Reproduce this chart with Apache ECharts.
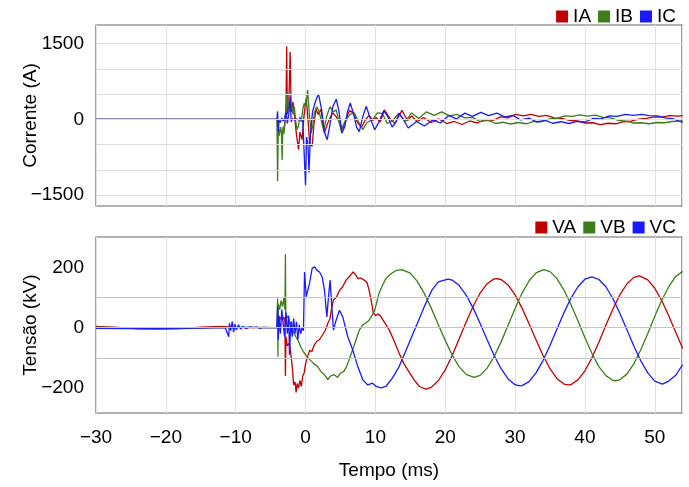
<!DOCTYPE html>
<html>
<head>
<meta charset="utf-8">
<script src="https://cdn.jsdelivr.net/npm/echarts@6/dist/echarts.min.js"></script>
<style>
  html, body { margin: 0; padding: 0; background: #fff; }
  #chart { width: 689px; height: 487px; }
</style>
</head>
<body>
<div id="chart"></div>
<script>
// Time axis (ms) and tick labels
const timeTicks = [-30, -20, -10, 0, 10, 20, 30, 40, 50];
const currentLabels = [-1500, 0, 1500];
const currentGrid = [-1500, -1000, -500, 0, 500, 1000, 1500];
const voltageLabels = [-200, 0, 200];
const voltageGrid = [-100, 0, 100];

// Phase currents (A): sample times (ms) and values
const iaT = [-30, -4.05, -3.9, -3.6, -3.3, -3.0, -2.8, -2.7, -2.6, -2.4, -2.2, -2.05, -1.8, -1.6, -1.3, -1.0, -0.8, -0.5, -0.2, 0.1, 0.4, 0.6, 0.95, 1.2, 1.5, 1.8, 2.2, 2.7, 3.1, 3.4, 3.9, 4.4, 4.9, 5.3, 5.8, 6.3, 6.8, 7.4, 8.0, 8.6, 9.1, 9.6, 10.1, 10.7, 11.3, 11.8, 12.2, 12.8, 13.8, 14.6, 15.2, 16.0, 16.9, 18.0, 19.1, 20.2, 21.3, 22.4, 23.5, 24.6, 25.7, 26.8, 27.9, 29.0, 30.1, 31.2, 32.3, 33.4, 34.5, 35.6, 36.7, 37.8, 38.9, 40.0, 41.1, 42.2, 43.3, 44.4, 45.5, 46.6, 47.7, 48.8, 49.9, 51.0, 52.1, 53.2, 54];
const iaV = [0, 0, -250, -200, -300, -100, 200, 1450, 100, 300, 1335, 150, 350, 100, -300, -600, -250, -400, 100, 425, -100, -500, -530, -100, 210, 100, 200, -270, -100, 0, 130, 50, -60, -200, 0, 180, 130, -50, -160, 0, 80, -20, 40, -50, 190, 80, 0, -80, 180, -20, 70, -40, 40, -60, 10, -80, -40, -100, -30, -70, 0, -20, 50, 30, 100, 70, 100, 60, 80, 30, 20, -20, -30, -70, -65, -100, -75, -85, -45, -35, 5, 20, 50, 45, 75, 65, 75];

const ibT = [-30, -4.1, -4.0, -3.9, -3.75, -3.6, -3.45, -3.35, -3.25, -3.1, -2.95, -2.8, -2.65, -2.5, -2.35, -2.2, -2.0, -1.8, -1.6, -1.4, -1.2, -1.0, -0.8, -0.6, -0.4, -0.2, 0.05, 0.3, 0.55, 0.8, 1.05, 1.3, 1.6, 1.9, 2.2, 2.6, 3.0, 3.5, 4.0, 4.4, 4.8, 5.1, 5.5, 5.8, 6.4, 7.0, 7.6, 8.2, 8.8, 9.6, 10.3, 11.0, 11.7, 12.5, 13.3, 14.3, 15.2, 16.2, 17.3, 18.4, 19.5, 20.6, 21.7, 22.8, 23.9, 25.0, 26.1, 27.2, 28.3, 29.4, 30.5, 31.6, 32.7, 33.8, 34.9, 36.0, 37.1, 38.2, 39.3, 40.4, 41.5, 42.6, 43.7, 44.8, 45.9, 47.0, 48.1, 49.2, 50.3, 51.4, 52.5, 53.6, 54];
const ibV = [0, 0, -1220, -200, -320, -150, -250, -800, -150, -280, -100, 150, 560, 200, 350, 150, 300, 100, 250, -50, -200, -120, 50, -50, 200, 320, 250, 580, 100, -270, -100, 150, 250, 180, 0, -220, 50, 250, 150, 190, -50, -220, -80, 0, 100, 130, -50, -200, -60, 0, 130, 120, -80, -20, 120, -40, 130, 20, 150, 80, 150, 70, 100, 30, 40, -40, -20, -80, -55, -90, -60, -85, -40, -45, 10, 20, 70, 60, 90, 65, 85, 40, 30, -20, -35, -70, -65, -85, -60, -65, -40, -30, -20];

const icT = [-30, -4.1, -4.0, -3.9, -3.8, -3.6, -3.4, -3.2, -3.0, -2.8, -2.6, -2.4, -2.2, -2.05, -1.9, -1.6, -1.3, -1.0, -0.7, -0.4, -0.15, 0.0, 0.15, 0.35, 0.5, 0.7, 1.0, 1.4, 1.85, 2.3, 2.7, 3.1, 3.5, 3.9, 4.4, 4.8, 5.2, 5.6, 6.0, 6.4, 6.9, 7.3, 7.7, 8.2, 8.7, 9.2, 9.9, 10.5, 11.2, 11.8, 12.4, 12.9, 13.4, 14.0, 14.7, 15.9, 17.0, 18.2, 19.3, 20.5, 21.6, 22.8, 23.9, 25.1, 26.2, 27.4, 28.5, 29.7, 30.8, 32.0, 33.1, 34.3, 35.4, 36.6, 37.7, 38.9, 40.0, 41.2, 42.3, 43.5, 44.6, 45.8, 46.9, 48.1, 49.2, 50.4, 51.5, 52.7, 53.8, 54];
const icV = [0, 0, 160, -240, -20, -60, 30, -30, 20, 150, -80, 100, 450, -50, 20, -10, 15, -10, 10, -10, 0, -1300, -350, -500, -1050, -300, 150, 350, 505, 200, -250, -400, -100, 250, 400, 150, -270, -150, 150, 325, 100, -150, -240, 60, 260, 50, -205, -50, 175, 50, -150, -60, 125, 0, -170, -40, -130, -10, -70, 80, 10, 125, 60, 140, 75, 125, 50, 80, -10, 25, -50, -20, -75, -45, -80, -40, -50, 20, 10, 70, 60, 100, 80, 100, 75, 70, 30, 10, -50, -55];

// Phase voltages (kV): sample times (ms) and values
const vaT = [-30, -27, -24, -21, -18, -15, -12, -10, -8, -4.1, -4.0, -3.7, -3.4, -3.1, -2.95, -2.88, -2.8, -2.6, -2.3, -2.1, -1.9, -1.7, -1.5, -1.35, -1.2, -1.0, -0.8, -0.6, -0.4, -0.2, 0.0, 0.3, 0.6, 0.9, 1.2, 1.6, 2.0, 2.4, 2.8, 3.2, 3.5, 3.7, 4.0, 4.4, 4.9, 5.3, 5.8, 6.3, 6.8, 7.2, 7.5, 7.9, 8.4, 8.8, 9.1, 9.4, 9.7, 10.0, 10.4, 10.7, 11.1, 11.5, 12.0, 12.7, 13.4, 14.1, 14.9, 15.6, 16.3, 17.2, 18, 19, 20, 21, 22, 23, 24, 25, 26, 27, 27.4, 28, 29, 30, 31, 32, 33, 34, 35, 36, 37, 37.6, 38, 39, 40, 41, 42, 43, 44, 45, 46, 47, 47.8, 49, 50, 51, 52, 53, 54];
const vaV = [4, 1, -4, -5, -3, 2, 4, 1, 0, 0, 20, 35, 25, 35, 20, -160, -30, -60, -50, -90, -130, -190, -180, -215, -185, -200, -175, -195, -160, -150, -120, -95, -75, -80, -60, -45, -40, -25, -10, 15, 30, 60, 92, 100, 125, 135, 158, 170, 185, 175, 163, 165, 158, 150, 125, 90, 50, 40, 45, 40, 25, 10, -8, -45, -85, -120, -150, -175, -195, -204, -198, -176, -140, -92, -37, 19, 71, 115, 146, 162, 163, 160, 142, 109, 65, 13, -40, -92, -136, -169, -187, -190, -189, -173, -143, -100, -48, 8, 61, 109, 145, 167, 172, 159, 131, 90, 40, -15, -69];

const vbT = [-30, -26, -23, -20, -16, -12, -10, -9, -4.1, -4.0, -3.95, -3.9, -3.7, -3.5, -3.3, -3.1, -2.95, -2.88, -2.82, -2.6, -2.4, -2.2, -2.0, -1.8, -1.4, -1.0, -0.7, -0.3, 0.2, 0.8, 1.2, 1.7, 2.2, 2.7, 3.2, 3.6, 4.1, 4.6, 5.0, 5.5, 5.9, 6.4, 6.9, 7.3, 7.7, 8.2, 8.6, 9.1, 9.5, 9.8, 10.1, 10.5, 11.0, 11.5, 12.0, 12.5, 13.0, 13.8, 15, 16, 17, 18, 19, 20, 21, 22, 23, 24.1, 25, 26, 27, 28, 29, 30, 31, 32, 33, 34.1, 35, 36, 37, 38, 39, 40, 41, 42, 43, 44, 44.4, 45, 46, 47, 48, 49, 50, 51, 52, 53, 54];
const vbV = [2, 0, -3, -4, -2, 1, 0, 2, 0, 97, -96, 80, 60, 90, 70, 100, 60, 244, 20, 40, 30, 10, 20, -10, -30, -45, -63, -80, -96, -110, -120, -128, -145, -156, -172, -160, -156, -165, -151, -145, -128, -95, -63, -35, -8, 10, 15, 25, 40, 52, 75, 113, 140, 163, 175, 183, 190, 193, 181, 154, 114, 65, 11, -42, -91, -130, -155, -165, -158, -134, -96, -47, 8, 64, 115, 155, 182, 193, 186, 163, 125, 77, 23, -33, -85, -129, -159, -175, -176, -173, -154, -120, -73, -19, 38, 91, 136, 170, 187];

const vcT = [-30, -26, -20, -15, -11.5, -11.0, -10.9, -10.7, -10.5, -10.3, -10.1, -9.9, -9.6, -9.3, -9, -8.5, -8, -7.5, -7, -6.5, -6, -5, -4.1, -4.0, -3.9, -3.8, -3.6, -3.4, -3.2, -3.0, -2.8, -2.6, -2.4, -2.3, -2.1, -1.9, -1.7, -1.5, -1.3, -1.1, -0.9, -0.7, -0.5, -0.3, -0.14, 0.1, 0.33, 0.57, 0.95, 1.29, 1.62, 2.0, 2.38, 2.71, 3.05, 3.33, 3.52, 3.76, 4.0, 4.38, 4.86, 5.33, 6.05, 6.76, 7.48, 8.2, 8.9, 9.6, 10.1, 10.8, 11.5, 12.4, 13.4, 14.3, 15.2, 16.2, 17.1, 18.1, 19.0, 20.4, 21, 22, 23, 24, 25, 26, 27, 28, 29, 30, 30.7, 31, 32, 33, 34, 35, 36, 37, 38, 39, 40, 41, 42, 43, 44, 45, 46, 47, 48, 49, 50, 51.1, 52, 53, 54];
const vcV = [-2, -3, -2, -1, 0, -30, 15, -10, 20, -15, 12, -8, 10, -5, 4, -3, 3, 0, 2, -2, 1, 0, 0, 70, -40, 40, -20, 60, 10, -30, 50, -20, 40, -90, 20, -30, 30, -20, 20, -40, 10, -20, 0, -10, 185, 103, 125, 147, 197, 202, 191, 185, 169, 125, 36, 114, 158, 70, -8, 25, 58, 36, -30, -74, -129, -173, -190, -184, -195, -200, -195, -168, -129, -80, -30, 25, 75, 125, 152, 161, 158, 140, 108, 65, 14, -40, -92, -136, -170, -189, -193, -192, -179, -150, -109, -59, -4, 50, 98, 136, 161, 169, 160, 136, 97, 48, -6, -61, -110, -150, -177, -187, -177, -158, -122];

const RED = '#c00000', GREEN = '#3c7d1c', BLUE = '#1a1aff';
const FONT = 'Liberation Sans, Arial, Helvetica, sans-serif';
const FS = 19;

const zip = (t, v) => t.map((x, i) => [x, v[i]]);
const minus = v => (v < 0 ? '\u2212' + Math.abs(v) : String(v));

const chart = echarts.init(document.getElementById('chart'), null, { renderer: 'canvas' });

// Horizontal reference lines drawn on the value scale of each panel
const gridLines = (values, color, xIdx, yIdx) => ({
  type: 'line', xAxisIndex: xIdx, yAxisIndex: yIdx, data: [], silent: true, z: 1,
  markLine: {
    silent: true, symbol: 'none', animation: false,
    label: { show: false },
    lineStyle: { color: color, width: 1, type: 'solid' },
    data: values.map(v => ({ yAxis: v }))
  }
});

const lineSeries = (name, t, v, color, xIdx, yIdx) => ({
  name, type: 'line', xAxisIndex: xIdx, yAxisIndex: yIdx,
  data: zip(t, v), showSymbol: false, symbol: 'none', z: 3,
  lineStyle: { color, width: 1.3 }, itemStyle: { color },
  animation: false
});

const xAxisBase = {
  type: 'value', min: -30, max: 53.9, interval: 10,
  axisLine: { show: false }, axisTick: { show: false },
  splitLine: { show: true, lineStyle: { color: '#e2e2e2', width: 1 } }
};

const legendBase = {
  right: 8, itemWidth: 12, itemHeight: 12, itemGap: 7, icon: 'rect',
  textStyle: { fontSize: FS, color: '#000', fontFamily: FONT }
};

const gridBase = {
  left: 96, right: 7, show: true, borderColor: '#666', borderWidth: 1.2,
  backgroundColor: 'transparent', containLabel: false, outerBoundsMode: 'none'
};

const nameStyle = { fontSize: FS, color: '#000', fontFamily: FONT };

chart.setOption({
  animation: false,
  textStyle: { fontFamily: FONT },
  legend: [
    Object.assign({ data: ['IA', 'IB', 'IC'], top: 2 }, legendBase),
    Object.assign({ data: ['VA', 'VB', 'VC'], top: 213 }, legendBase)
  ],
  grid: [
    Object.assign({ top: 25, height: 181 }, gridBase),
    Object.assign({ top: 237, height: 176 }, gridBase)
  ],
  xAxis: [
    Object.assign({ gridIndex: 0, axisLabel: { show: false } }, xAxisBase),
    Object.assign({ gridIndex: 1,
      axisLabel: { show: true, fontSize: FS, color: '#000', margin: 15, formatter: minus, customValues: timeTicks, fontFamily: FONT },
      name: 'Tempo (ms)', nameLocation: 'middle', nameGap: 48, nameMoveOverlap: false,
      nameTextStyle: nameStyle }, xAxisBase)
  ],
  yAxis: [
    { type: 'value', gridIndex: 0, min: -1713, max: 1870,
      axisLine: { show: false }, axisTick: { show: false }, splitLine: { show: false },
      axisLabel: { fontSize: FS, color: '#000', margin: 12, formatter: minus, customValues: currentLabels, fontFamily: FONT },
      name: 'Corrente (A)', nameLocation: 'middle', nameGap: 56, nameMoveOverlap: false,
      nameTextStyle: nameStyle },
    { type: 'value', gridIndex: 1, min: -283, max: 301,
      axisLine: { show: false }, axisTick: { show: false }, splitLine: { show: false },
      axisLabel: { fontSize: FS, color: '#000', margin: 12, formatter: minus, customValues: voltageLabels, fontFamily: FONT },
      name: 'Tensão (kV)', nameLocation: 'middle', nameGap: 56, nameMoveOverlap: false,
      nameTextStyle: nameStyle }
  ],
  series: [
    gridLines(currentGrid, '#dedede', 0, 0),
    gridLines(voltageGrid, '#c4c4c4', 1, 1),
    lineSeries('IA', iaT, iaV, RED, 0, 0),
    lineSeries('IB', ibT, ibV, GREEN, 0, 0),
    lineSeries('IC', icT, icV, BLUE, 0, 0),
    lineSeries('VA', vaT, vaV, RED, 1, 1),
    lineSeries('VB', vbT, vbV, GREEN, 1, 1),
    lineSeries('VC', vcT, vcV, BLUE, 1, 1)
  ]
});
</script>
</body>
</html>
